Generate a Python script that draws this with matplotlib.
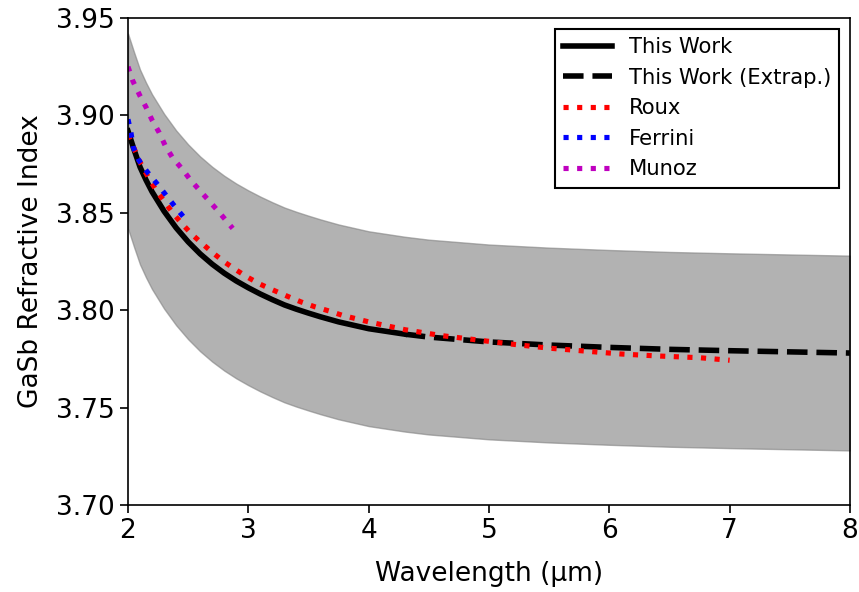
import matplotlib
matplotlib.use("Agg")
import matplotlib.pyplot as plt
import numpy as np

# fitted index, measured range (solid) and extrapolated range (dashed)
wl_fit = [2.0, 2.05, 2.1, 2.15, 2.2, 2.3, 2.4, 2.5, 2.6, 2.7, 2.8, 2.9, 3.0,
          3.1, 3.2, 3.3, 3.4, 3.5, 3.6, 3.75, 4.0, 4.3]
n_fit = [3.892, 3.8825, 3.8735, 3.8668, 3.8608, 3.8508, 3.8423, 3.8351, 3.8289, 3.8236, 3.819,
         3.815, 3.8115, 3.8083, 3.8054, 3.8027, 3.8005, 3.7985, 3.7966, 3.794, 3.7905, 3.7877]
wl_ext = [4.3, 4.5, 5.0, 5.5, 6.0, 6.5, 7.0, 7.5, 8.0]
n_ext = [3.7877, 3.7862, 3.7837, 3.7821, 3.7809, 3.7799, 3.7792, 3.7786, 3.778]
n_err = 0.05

# literature values
wl_roux = [2.0, 2.1, 2.17, 2.23, 2.3, 2.37, 2.45, 2.53, 2.62, 2.71, 2.8, 2.9, 3.0, 3.1, 3.2, 3.33,
           3.44, 3.55, 3.67, 3.78, 4.0, 4.3, 4.6, 5.0, 5.2, 5.5, 5.8, 6.1, 6.4, 6.75, 7.0]
n_roux = [3.890, 3.876, 3.868, 3.862, 3.856, 3.850, 3.8443, 3.839, 3.834, 3.8292, 3.8248, 3.8206,
          3.8167, 3.8133, 3.8105, 3.807, 3.8042, 3.8018, 3.7996, 3.7974, 3.794, 3.790, 3.787,
          3.784, 3.7825, 3.7805, 3.779, 3.7775, 3.7765, 3.7756, 3.7743]
wl_ferrini = [2.0, 2.025, 2.044, 2.09, 2.16, 2.24, 2.31, 2.385, 2.46]
n_ferrini = [3.898, 3.891, 3.8836, 3.877, 3.871, 3.865, 3.8595, 3.8536, 3.848]
wl_munoz = [2.0, 2.04, 2.1, 2.15, 2.2, 2.26, 2.31, 2.37, 2.45, 2.52, 2.6, 2.68, 2.76, 2.87]
n_munoz = [3.925, 3.9177, 3.910, 3.9042, 3.8976, 3.8911, 3.8844, 3.8783, 3.8725, 3.8668, 3.8612,
           3.8557, 3.8501, 3.842]

plt.rcParams['font.family'] = 'DejaVu Sans'
fig = plt.figure(figsize=(8.59, 5.92), dpi=100)
ax = fig.add_axes([0.149, 0.147, 0.8405, 0.8226])

wl_all = np.array(wl_fit + wl_ext[1:])
n_all = np.array(n_fit + n_ext[1:])
ax.fill_between(wl_all, n_all - n_err, n_all + n_err, color='gray', alpha=0.6)

ax.plot(wl_fit, n_fit, 'k-', lw=4, label='This Work')
ax.plot(wl_ext, n_ext, 'k--', lw=4, label='This Work (Extrap.)')
ax.plot(wl_roux, n_roux, 'r:', lw=3.7, label='Roux')
ax.plot(wl_ferrini, n_ferrini, 'b:', lw=3.7, label='Ferrini')
ax.plot(wl_munoz, n_munoz, 'm:', lw=3.7, label='Munoz')

ax.set_xlim(2, 8)
ax.set_ylim(3.70, 3.95)
ax.set_xticks(range(2, 9))
ax.set_yticks([3.70, 3.75, 3.80, 3.85, 3.90, 3.95])
ax.yaxis.set_major_formatter(matplotlib.ticker.FormatStrFormatter('%.2f'))
ax.tick_params(labelsize=19, width=1.2, length=6)
for s in ax.spines.values():
    s.set_linewidth(1.2)
ax.set_xlabel('Wavelength (µm)', fontsize=19, labelpad=12)
ax.set_ylabel('GaSb Refractive Index', fontsize=19, labelpad=9)

leg = ax.legend(loc='upper right', fontsize=15.2, fancybox=False, framealpha=1,
                edgecolor='black', handlelength=2.3)
leg.get_frame().set_linewidth(1.5)

fig.savefig('out.png', dpi=100)
